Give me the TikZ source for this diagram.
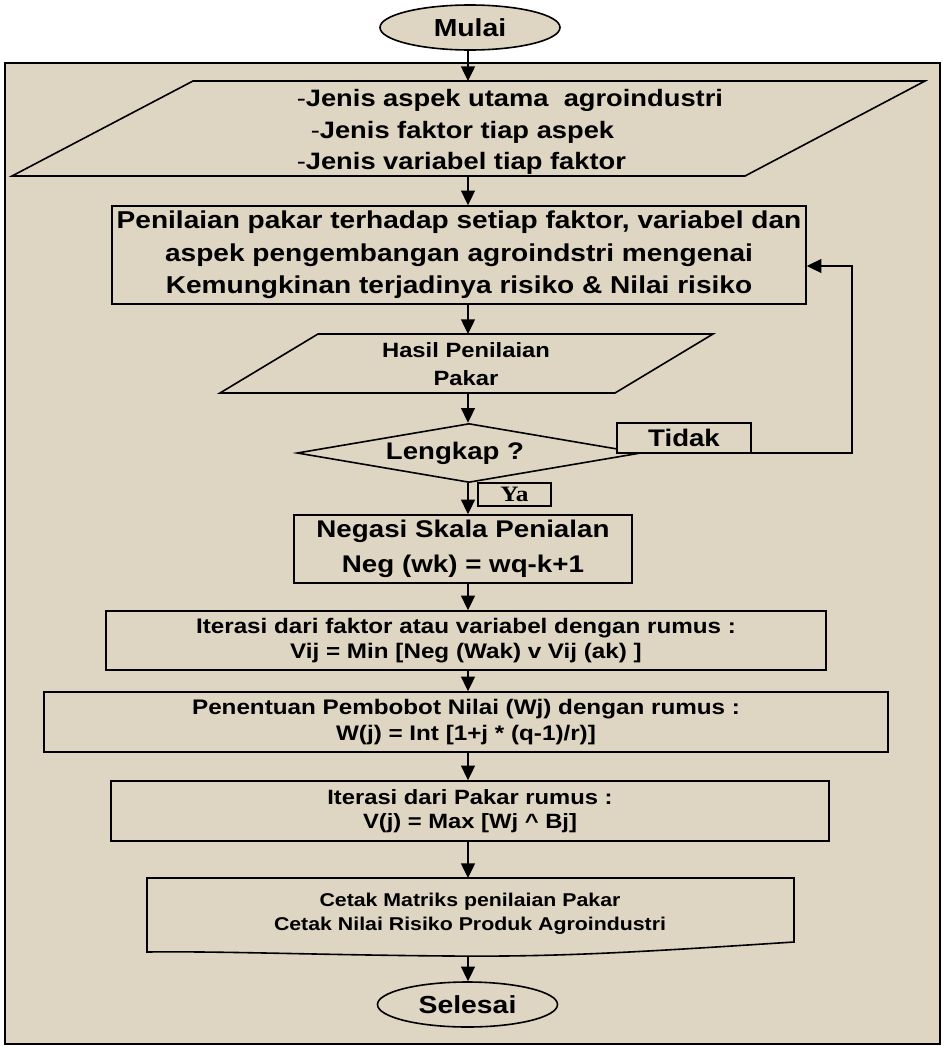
\documentclass[tikz,border=0pt]{standalone}
\usepackage{fontspec}
\setmainfont{Liberation Sans}[FakeStretch=1.15]
\newfontfamily\serifya{Liberation Serif}[FakeStretch=1.15]
\usetikzlibrary{shapes.geometric,arrows.meta}
\definecolor{kertas}{RGB}{222,213,194}
\tikzset{
	kotak/.style={draw, rectangle, inner sep=2pt, align=center},
	ujung/.style={draw, ellipse, fill=kertas, minimum width=135pt, minimum height=33.75pt, inner sep=0pt, font=\fontsize{18.5}{20}\selectfont\bfseries},
	flow/.style={-{Triangle[length=11pt,width=10.5pt]}, line width=1pt}}
\tikzset{every picture/.style={line width=1.2pt}}

\begin{document}
\begin{tikzpicture}[x=0.75pt,y=0.75pt,yscale=-1,xscale=1]
	\useasboundingbox (0,0) rectangle (945,1046);
	\fill [white] (0,0) rectangle (945,1046);

	%Shape: Rectangle [frame]
	\draw [fill=kertas] (5,63) rectangle (940,1044);
	\coordinate (spine) at (468,0);

	%Shape: Ellipse [mulai]
	\node [ujung] (mulai) at (470,27.5) {Mulai};

	%Shape: Parallelogram [input]
	\draw (193,81) -- (925,81) -- (745,176) -- (12,176) -- cycle;
	\coordinate (inp-n) at (468,81);
	\coordinate (inp-s) at (468,176);
	% Text Node
	\node [anchor=west, align=left, inner sep=0pt, font=\fontsize{17.8}{23.6}\selectfont\bfseries] (jenis) at (296,132) {{\mdseries -}Jenis aspek utama\ \ agroindustri\\\hspace*{10.5pt}{\mdseries -}Jenis faktor tiap aspek\\{\mdseries -}Jenis variabel tiap faktor};

	%Shape: Rectangle [penilaian]
	\node [kotak, minimum width=520.5pt, minimum height=73.5pt, font=\fontsize{18.3}{24.4}\selectfont\bfseries] (nilai) at (459,255) {Penilaian pakar terhadap setiap faktor, variabel dan\\aspek pengembangan agroindstri mengenai\\Kemungkinan terjadinya risiko \& Nilai risiko};

	%Shape: Parallelogram [hasil]
	\draw (318,334) -- (713,334) -- (615,393) -- (220,393) -- cycle;
	\coordinate (hsl-n) at (468,334);
	\coordinate (hsl-s) at (468,393);
	% Text Node
	\node [align=center, font=\fontsize{15.5}{21}\selectfont\bfseries] (hasil) at (466,364) {Hasil Penilaian\\Pakar};

	%Shape: Diamond [lengkap]
	\node [draw, diamond, aspect=5.8, minimum width=258pt, minimum height=44.25pt, inner sep=0pt, font=\fontsize{18}{20}\selectfont\bfseries] (cek) at (469,453) {Lengkap ?\hspace*{21pt}};

	%Straight Lines [tidak loop]
	\coordinate (balik) at (852,453);
	\draw [flow] (cek.east) -- (balik) |- ([yshift=8.25pt]nilai.east);

	%Shape: Rectangle [tidak]
	\node [kotak, fill=kertas, minimum width=100.5pt, minimum height=22.5pt, inner sep=0pt, font=\fontsize{18}{20}\selectfont\bfseries] (tidak) at (684,438) {Tidak};
	%Shape: Rectangle [ya]
	\node [kotak, minimum width=54.75pt, minimum height=17.25pt, inner sep=0pt, font=\serifya\bfseries\fontsize{16.5}{17}\selectfont] (ya) at (514.5,494.5) {Ya};

	%Shape: Rectangle [negasi]
	\node [kotak, minimum width=253.5pt, minimum height=51pt, font=\fontsize{18.1}{26}\selectfont\bfseries] (negasi) at (463,549) {Negasi Skala Penialan\\Neg (wk) = wq-k+1};

	%Shape: Rectangle [iterasi faktor]
	\node [kotak, minimum width=540pt, minimum height=44.25pt, font=\fontsize{15.8}{18.5}\selectfont\bfseries] (iter1) at (466,640.5) {Iterasi dari faktor atau variabel dengan rumus :\\Vij = Min [Neg (Wak) v Vij (ak) ]};

	%Shape: Rectangle [pembobot]
	\node [kotak, minimum width=633pt, minimum height=45pt, font=\fontsize{15.8}{19.5}\selectfont\bfseries] (tentu) at (466,722) {Penentuan Pembobot Nilai (Wj) dengan rumus :\\W(j) = Int [1+j * (q-1)/r)]};

	%Shape: Rectangle [iterasi pakar]
	\node [kotak, minimum width=538.5pt, minimum height=45pt, font=\fontsize{15.5}{18}\selectfont\bfseries] (iter2) at (470,811) {Iterasi dari Pakar rumus :\\V(j) = Max [Wj \textasciicircum{} Bj]};

	%Shape: Document [cetak]
	\draw (147,878) -- (794,878) -- (794,942) .. controls (640,952) and (560,957) .. (450,956) .. controls (320,955) and (220,951) .. (147,952) -- cycle;
	\coordinate (ctk-n) at (470,878);
	\coordinate (ctk-s) at (470,956);
	% Text Node
	\node [align=center, font=\fontsize{13.9}{18}\selectfont\bfseries] (cetak) at (470,914) {Cetak Matriks penilaian Pakar\\Cetak Nilai Risiko Produk Agroindustri};

	%Shape: Ellipse [selesai]
	\node [ujung] (selesai) at (467.5,1004.5) {Selesai};

	%Straight Lines [arrows]
	\draw [flow] (spine |- mulai.south) -- (spine |- inp-n);
	\draw [flow] (spine |- inp-s) -- (spine |- nilai.north);
	\draw [flow] (spine |- nilai.south) -- (spine |- hsl-n);
	\draw [flow] (spine |- hsl-s) -- (spine |- cek.north);
	\draw [flow] (spine |- cek.south) -- (spine |- negasi.north);
	\draw [flow] (spine |- negasi.south) -- (spine |- iter1.north);
	\draw [flow] (spine |- iter1.south) -- (spine |- tentu.north);
	\draw [flow] (spine |- tentu.south) -- (spine |- iter2.north);
	\draw [flow] (spine |- iter2.south) -- (spine |- ctk-n);
	\draw [flow] (spine |- ctk-s) -- (spine |- selesai.north);

\end{tikzpicture}
\end{document}
